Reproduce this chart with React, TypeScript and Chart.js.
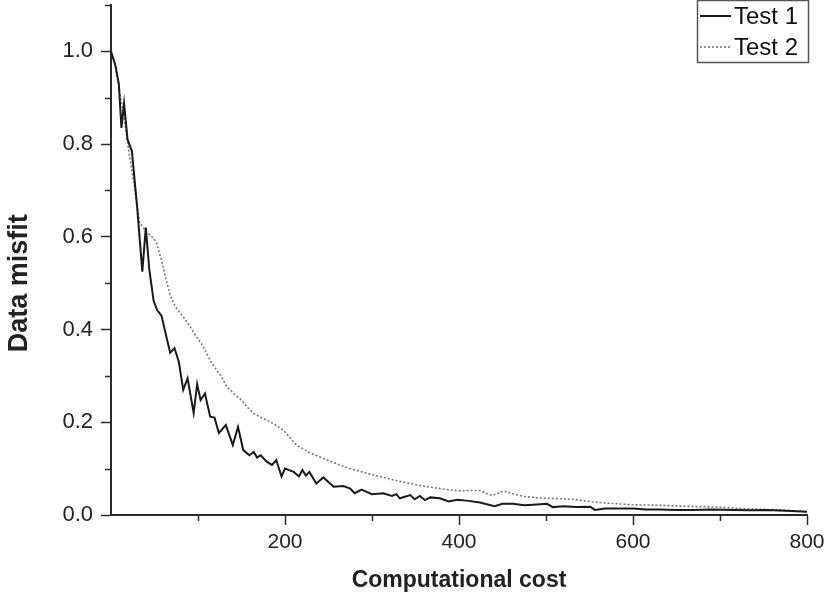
import React, { useEffect, useRef } from "react";
import { Chart, registerables } from "chart.js";

Chart.register(...registerables);

const test1Cost = [0, 5, 9, 12, 15, 19, 24, 30, 36, 40, 44, 49, 53, 58, 63, 68, 73, 78, 83, 88, 95, 99, 103, 108, 114, 119, 124, 132, 140, 146, 152, 159, 164, 168, 172, 179, 185, 190, 196, 200, 210, 216, 220, 224, 228, 236, 244, 256, 267, 275, 280, 288, 300, 313, 323, 328, 332, 344, 349, 355, 361, 367, 378, 388, 398, 409, 424, 441, 450, 462, 475, 485, 501, 508, 520, 535, 551, 556, 568, 581, 600, 615, 631, 650, 669, 690, 715, 735, 754, 775, 800];
const test1Misfit = [1.0, 0.97, 0.93, 0.835, 0.888, 0.81, 0.785, 0.665, 0.525, 0.62, 0.53, 0.462, 0.442, 0.43, 0.39, 0.35, 0.36, 0.33, 0.27, 0.295, 0.22, 0.282, 0.248, 0.262, 0.212, 0.21, 0.177, 0.194, 0.151, 0.19, 0.14, 0.129, 0.136, 0.124, 0.129, 0.115, 0.108, 0.118, 0.083, 0.1, 0.093, 0.083, 0.097, 0.085, 0.093, 0.068, 0.081, 0.061, 0.0625, 0.057, 0.047, 0.055, 0.045, 0.047, 0.041, 0.045, 0.036, 0.043, 0.034, 0.041, 0.032, 0.038, 0.036, 0.029, 0.033, 0.031, 0.027, 0.019, 0.024, 0.024, 0.021, 0.022, 0.024, 0.017, 0.019, 0.017, 0.018, 0.011, 0.014, 0.014, 0.014, 0.012, 0.012, 0.011, 0.011, 0.012, 0.011, 0.01, 0.011, 0.009, 0.007];

const test2Cost = [0, 5, 10, 15, 20, 26, 33, 41, 47, 52, 58, 63, 68, 74, 82, 91, 98, 106, 115, 127, 133, 141, 150, 157, 164, 173, 183, 190, 198, 205, 213, 228, 244, 260, 275, 292, 309, 326, 344, 360, 378, 390, 401, 413, 424, 432, 438, 445, 451, 462, 474, 490, 505, 531, 554, 575, 600, 630, 658, 696, 734, 772, 800];
const test2Misfit = [1.0, 0.97, 0.91, 0.86, 0.79, 0.72, 0.63, 0.61, 0.6, 0.589, 0.55, 0.51, 0.474, 0.449, 0.43, 0.406, 0.385, 0.363, 0.33, 0.298, 0.277, 0.262, 0.248, 0.232, 0.219, 0.21, 0.201, 0.193, 0.183, 0.168, 0.151, 0.135, 0.122, 0.11, 0.1, 0.091, 0.083, 0.075, 0.068, 0.062, 0.057, 0.054, 0.052, 0.053, 0.053, 0.046, 0.042, 0.047, 0.052, 0.046, 0.04, 0.037, 0.036, 0.034, 0.028, 0.025, 0.022, 0.021, 0.019, 0.017, 0.013, 0.011, 0.007];

const seriesLabels = ["Test 1", "Test 2"];
const xTitle = "Computational cost";
const yTitle = "Data misfit";
const xMinorTicks = [100, 300, 500, 700];
const yMinorTicks = [0.1, 0.3, 0.5, 0.7, 0.9, 1.1];

const FONT = "'Liberation Sans', Arial, sans-serif";
const AXIS = "#2b2b2b";

const decorPlugin = {
  id: "decor",
  afterDraw(chart: any) {
    const { ctx, chartArea, scales } = chart;
    const x = scales.x;
    const y = scales.y;
    ctx.save();
    ctx.strokeStyle = AXIS;
    ctx.lineWidth = 1.5;
    ctx.beginPath();
    for (const v of xMinorTicks) {
      const px = Math.round(x.getPixelForValue(v)) + 0.5;
      ctx.moveTo(px, chartArea.bottom);
      ctx.lineTo(px, chartArea.bottom + 6);
    }
    for (const v of yMinorTicks) {
      const py = Math.round(y.getPixelForValue(v)) + 0.5;
      ctx.moveTo(chartArea.left - 6, py);
      ctx.lineTo(chartArea.left, py);
    }
    ctx.stroke();

    // y-axis title
    ctx.fillStyle = "#222";
    ctx.font = `bold 27px ${FONT}`;
    ctx.textAlign = "center";
    ctx.textBaseline = "middle";
    ctx.translate(20, (y.getPixelForValue(0) + y.getPixelForValue(1)) / 2);
    ctx.rotate(-Math.PI / 2);
    ctx.fillText(yTitle, 0, 0);
    ctx.restore();

    // legend box
    ctx.save();
    const boxRight = chartArea.right + 1;
    const boxLeft = boxRight - 111;
    const boxTop = 0;
    const boxBottom = 62;
    ctx.strokeStyle = "#555";
    ctx.lineWidth = 1.5;
    ctx.strokeRect(boxLeft + 0.5, boxTop + 0.5, boxRight - boxLeft, boxBottom - boxTop);
    ctx.font = `24px ${FONT}`;
    ctx.textAlign = "left";
    ctx.textBaseline = "middle";
    chart.data.datasets.forEach((ds: any, i: number) => {
      const cy = 16 + i * 31;
      ctx.save();
      ctx.strokeStyle = ds.borderColor;
      ctx.lineWidth = ds.borderWidth;
      ctx.setLineDash(ds.borderDash || []);
      ctx.beginPath();
      ctx.moveTo(boxLeft + 3, cy);
      ctx.lineTo(boxLeft + 34, cy);
      ctx.stroke();
      ctx.restore();
      ctx.fillStyle = "#111";
      ctx.fillText(ds.label, boxLeft + 37, cy + 1);
    });
    ctx.restore();
  },
};

export default function App() {
  const ref = useRef<HTMLCanvasElement>(null);
  useEffect(() => {
    if (!ref.current) return;
    const chart = new Chart(ref.current, {
      type: "line",
      data: {
        datasets: [
          {
            label: seriesLabels[0],
            data: test1Cost.map((c, i) => ({ x: c, y: test1Misfit[i] })),
            borderColor: "#1a1a1a",
            borderWidth: 2,
            pointRadius: 0,
            tension: 0,
          },
          {
            label: seriesLabels[1],
            data: test2Cost.map((c, i) => ({ x: c, y: test2Misfit[i] })),
            borderColor: "#777",
            borderWidth: 1.6,
            borderDash: [2, 2],
            pointRadius: 0,
            tension: 0,
          },
        ],
      },
      options: {
        responsive: false,
        animation: false,
        layout: { padding: { left: 0, right: 21, top: 5, bottom: 0 } },
        plugins: { legend: { display: false }, tooltip: { enabled: false } },
        scales: {
          x: {
            type: "linear",
            min: 0,
            max: 800,
            afterFit: (s: any) => {
              s.height = 87;
              s.paddingLeft = 0;
              s.paddingRight = 0;
            },
            border: { display: true, color: AXIS, width: 2 },
            grid: {
              drawOnChartArea: false,
              drawTicks: true,
              tickLength: 10,
              tickWidth: 1.5,
              tickColor: AXIS,
            },
            ticks: {
              stepSize: 200,
              autoSkip: false,
              maxRotation: 0,
              padding: 5,
              color: "#222",
              font: { family: FONT, size: 21 },
              callback: (v: any) => (v === 0 ? null : String(v)),
            },
            title: {
              display: true,
              text: xTitle,
              color: "#222",
              font: { family: FONT, size: 23, weight: "bold" },
              padding: { top: 0, bottom: 8 },
            },
          },
          y: {
            type: "linear",
            min: 0,
            max: 1.1,
            afterFit: (s: any) => {
              s.width = 111;
              s.paddingTop = 0;
              s.paddingBottom = 0;
            },
            border: { display: true, color: AXIS, width: 2 },
            grid: {
              drawOnChartArea: false,
              drawTicks: true,
              tickLength: 10,
              tickWidth: 1.5,
              tickColor: AXIS,
            },
            ticks: {
              stepSize: 0.2,
              autoSkip: false,
              padding: 8,
              color: "#222",
              font: { family: FONT, size: 22 },
              callback: (v: any) => {
                const n = Math.round(Number(v) * 10);
                return n % 2 === 0 && n <= 10 ? (n / 10).toFixed(1) : null;
              },
            },
          },
        },
      },
      plugins: [decorPlugin],
    });
    return () => chart.destroy();
  }, []);
  return (
    <div style={{ position: "fixed", left: 0, top: 0, width: 828, height: 602, background: "#fff" }}>
      <canvas ref={ref} width={828} height={602} />
    </div>
  );
}
